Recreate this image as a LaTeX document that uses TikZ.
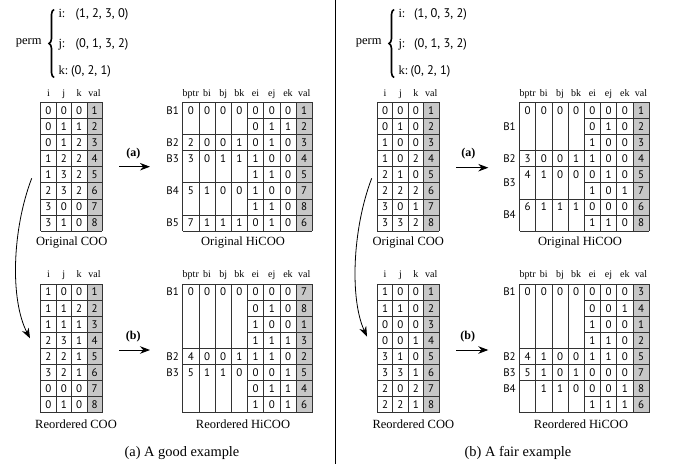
\documentclass[tikz,border=0pt]{standalone}
\usepackage{fontspec}
\setmainfont{Liberation Serif}
\setsansfont{PT Sans}
\usetikzlibrary{arrows.meta}
\usetikzlibrary{decorations.pathreplacing}

\begin{document}
\begin{tikzpicture}[x=1pt,y=-1pt,
  cell/.style={font=\sffamily\fontsize{11}{13}\selectfont, inner sep=0pt},
  head/.style={font=\fontsize{10}{12}\selectfont, inner sep=0pt, anchor=base},
  tname/.style={font=\fontsize{12.5}{14}\selectfont, inner sep=0pt, anchor=base},
  capt/.style={font=\fontsize{14.4}{16}\selectfont, inner sep=0pt, anchor=base},
  steplab/.style={font=\bfseries\fontsize{12}{14}\selectfont, inner sep=0pt},
  permlab/.style={font=\fontsize{12.5}{14}\selectfont, inner sep=0pt, anchor=base west},
  permval/.style={font=\sffamily\fontsize{12.5}{14}\selectfont, inner sep=0pt, anchor=base west},
  tabline/.style={draw=black!80, line width=0.8pt},
  valcol/.style={fill=black!22},
  conv/.style={-{Stealth[length=10pt,width=7.5pt]}, line width=0.9pt}]
\useasboundingbox (0,0) rectangle (673,464);

% permutations
\node[tname, anchor=base east] (permA) at (41.7,44.7) {perm};
\draw[decorate, decoration={brace, amplitude=5pt}, line width=1.6pt] (54,77.5) -- (54,9.5);
\node[permlab] (iA) at (58.3,17.8) {i:};
\node[permlab] (jA) at (58.3,47.8) {j:};
\node[permlab] (kA) at (58.3,74.5) {k:};
\node[permval] (iAv) at (75.5,17.8) {(1, 2, 3, 0)};
\node[permval] (jAv) at (75.5,47.8) {(0, 1, 3, 2)};
\node[permval] (kAv) at (71,74.5) {(0, 2, 1)};

\node[tname, anchor=base east] (permB) at (381.7,44.7) {perm};
\draw[decorate, decoration={brace, amplitude=5pt}, line width=1.6pt] (394,77.5) -- (394,9.5);
\node[permlab] (iB) at (398.3,17.8) {i:};
\node[permlab] (jB) at (398.3,47.8) {j:};
\node[permlab] (kB) at (398.3,74.5) {k:};
\node[permval] (iBv) at (414,17.8) {(1, 0, 3, 2)};
\node[permval] (jBv) at (414,47.8) {(0, 1, 3, 2)};
\node[permval] (kBv) at (410.5,74.5) {(0, 2, 1)};

% COO tables
\foreach \tx/\ty/\tn/\rows in {
  40.7/102.3/ca/{0/0/0/1,0/1/1/2,0/1/2/3,1/2/2/4,1/3/2/5,2/3/2/6,3/0/0/7,3/1/0/8},
  40.7/284/cb/{1/0/0/1,1/1/2/2,1/1/1/3,2/3/1/4,2/2/1/5,3/2/1/6,0/0/0/7,0/1/0/8},
  377.3/102.3/cc/{0/0/0/1,0/1/0/2,1/0/0/3,1/0/2/4,2/1/0/5,2/2/2/6,3/0/1/7,3/3/2/8},
  377.3/284/cd/{1/0/0/1,1/1/0/2,0/0/0/3,0/0/1/4,3/1/0/5,3/3/1/6,2/0/2/7,2/2/1/8}}{
  \fill[valcol] (\tx+46.2,\ty) rectangle (\tx+61.6,\ty+128.8);
  \foreach \c in {0,...,4} \draw[tabline] (\tx+\c*15.4,\ty) -- ++(0,128.8);
  \foreach \r in {0,...,8} \draw[tabline] (\tx,\ty+\r*16.1) -- ++(61.6,0);
  \foreach \h [count=\c] in {i,j,k,val}
    \node[head] (\tn-h\c) at (\tx+\c*15.4-7.7,\ty-6.3) {\h};
  \foreach \a/\b/\d/\v [count=\r] in \rows {
    \node[cell] (\tn-\r-1) at (\tx+7.7,\ty+\r*16.1-8.05) {\a};
    \node[cell] (\tn-\r-2) at (\tx+23.1,\ty+\r*16.1-8.05) {\b};
    \node[cell] (\tn-\r-3) at (\tx+38.5,\ty+\r*16.1-8.05) {\d};
    \node[cell] (\tn-\r-4) at (\tx+53.9,\ty+\r*16.1-8.05) {\v};
  }
}

% HiCOO tables
\foreach \tx/\ty/\tn/\bnd/\blocks/\elems in {
  182.7/102.3/ha/{2,3,5,7}/{B1/1/1/0/0/0/0,B2/3/3/2/0/0/1,B3/4/4/3/0/1/1,B4/6/6/5/1/0/0,B5/8/8/7/1/1/1}/{0/0/0/1,0/1/1/2,0/1/0/3,1/0/0/4,1/1/0/5,1/0/0/7,1/1/0/8,0/1/0/6},
  182.7/284/hb/{4,5}/{B1/1/1/0/0/0/0,B2/5/5/4/0/0/1,B3/6/6/5/1/1/0}/{0/0/0/7,0/1/0/8,1/0/0/1,1/1/1/3,1/1/0/2,0/0/1/5,0/1/1/4,1/0/1/6},
  519.5/102.3/hc/{3,4,6}/{B1/1/2/0/0/0/0,B2/4/4/3/0/0/1,B3/5/5.5/4/1/0/0,B4/7/7.5/6/1/1/1}/{0/0/0/1,0/1/0/2,1/0/0/3,1/0/0/4,0/1/0/5,1/0/1/7,0/0/0/6,1/1/0/8},
  519.5/284/hd/{4,5,6}/{B1/1/1/0/0/0/0,B2/5/5/4/1/0/0,B3/6/6/5/1/0/1,B4/7/7/{}/1/1/0}/{0/0/0/3,0/0/1/4,1/0/0/1,1/1/0/2,1/1/0/5,0/0/0/7,0/0/1/8,1/1/1/6}}{
  \fill[valcol] (\tx+113.4,\ty) rectangle (\tx+129.6,\ty+128.8);
  \foreach \c in {0,...,8} \draw[tabline] (\tx+\c*16.2,\ty) -- ++(0,128.8);
  \draw[tabline] (\tx,\ty) -- ++(129.6,0) (\tx,\ty+128.8) -- ++(129.6,0);
  \foreach \r in {1,...,7} \draw[tabline] (\tx+64.8,\ty+\r*16.1) -- ++(64.8,0);
  \foreach \r in \bnd \draw[tabline] (\tx,\ty+\r*16.1) -- ++(64.8,0);
  \foreach \h [count=\c] in {bptr,bi,bj,bk,ei,ej,ek,val}
    \node[head] (\tn-h\c) at (\tx+\c*16.2-8.1,\ty-6.3) {\h};
  \foreach \bn/\br/\by/\p/\bi/\bj/\bk in \blocks {
    \node[cell] (\tn-\bn) at (\tx-10,\ty+\by*16.1-8.05) {\bn};
    \foreach \v [count=\c] in {\p,\bi,\bj,\bk}
      \node[cell] (\tn-\bn-\c) at (\tx+\c*16.2-8.1,\ty+\br*16.1-8.05) {\v};
  }
  \foreach \ei/\ej/\ek/\v [count=\r] in \elems {
    \node[cell] (\tn-\r-5) at (\tx+72.9,\ty+\r*16.1-8.05) {\ei};
    \node[cell] (\tn-\r-6) at (\tx+89.1,\ty+\r*16.1-8.05) {\ej};
    \node[cell] (\tn-\r-7) at (\tx+105.3,\ty+\r*16.1-8.05) {\ek};
    \node[cell] (\tn-\r-8) at (\tx+121.5,\ty+\r*16.1-8.05) {\v};
  }
}

% table names
\node[tname] (caName) at (71.7,245.8) {Original COO};
\node[tname] (haName) at (243,245.8) {Original HiCOO};
\node[tname] (cbName) at (76,428) {Reordered COO};
\node[tname] (hbName) at (243,428) {Reordered HiCOO};
\node[tname] (ccName) at (408.3,245.8) {Original COO};
\node[tname] (hcName) at (580,245.8) {Original HiCOO};
\node[tname] (cdName) at (413.3,428) {Reordered COO};
\node[tname] (hdName) at (581,428) {Reordered HiCOO};

% arrows
\coordinate (aA1) at (119.3,166.7);
\coordinate (aA2) at (150,166.7);
\draw[conv] (aA1) -- (aA2);
\node[steplab] (aAl) at (133.3,153.3) {(a)};
\coordinate (bA1) at (119.3,350);
\coordinate (bA2) at (150,350);
\draw[conv] (bA1) -- (bA2);
\node[steplab] (bAl) at (133.3,336.7) {(b)};
\coordinate (rA1) at (31.7,178.3);
\coordinate (rA2) at (30,338.3);
\draw[conv, line width=0.8pt] (rA1) .. controls (12,230) and (10,300) .. (rA2);

\coordinate (aB1) at (456,167.7);
\coordinate (aB2) at (488.3,167.7);
\draw[conv] (aB1) -- (aB2);
\node[steplab] (aBl) at (468.3,153.3) {(a)};
\coordinate (bB1) at (456,350);
\coordinate (bB2) at (488.3,350);
\draw[conv] (bB1) -- (bB2);
\node[steplab] (bBl) at (467.7,336.7) {(b)};
\coordinate (rB1) at (371.7,178.3);
\coordinate (rB2) at (367,336.5);
\draw[conv, line width=0.8pt] (rB1) .. controls (352,230) and (350,300) .. (rB2);

% divider and captions
\draw[line width=0.9pt] (335,0) -- (335,464);
\node[capt] (captA) at (182,456.5) {(a) A good example};
\node[capt] (captB) at (518,456.5) {(b) A fair example};
\end{tikzpicture}
\end{document}
